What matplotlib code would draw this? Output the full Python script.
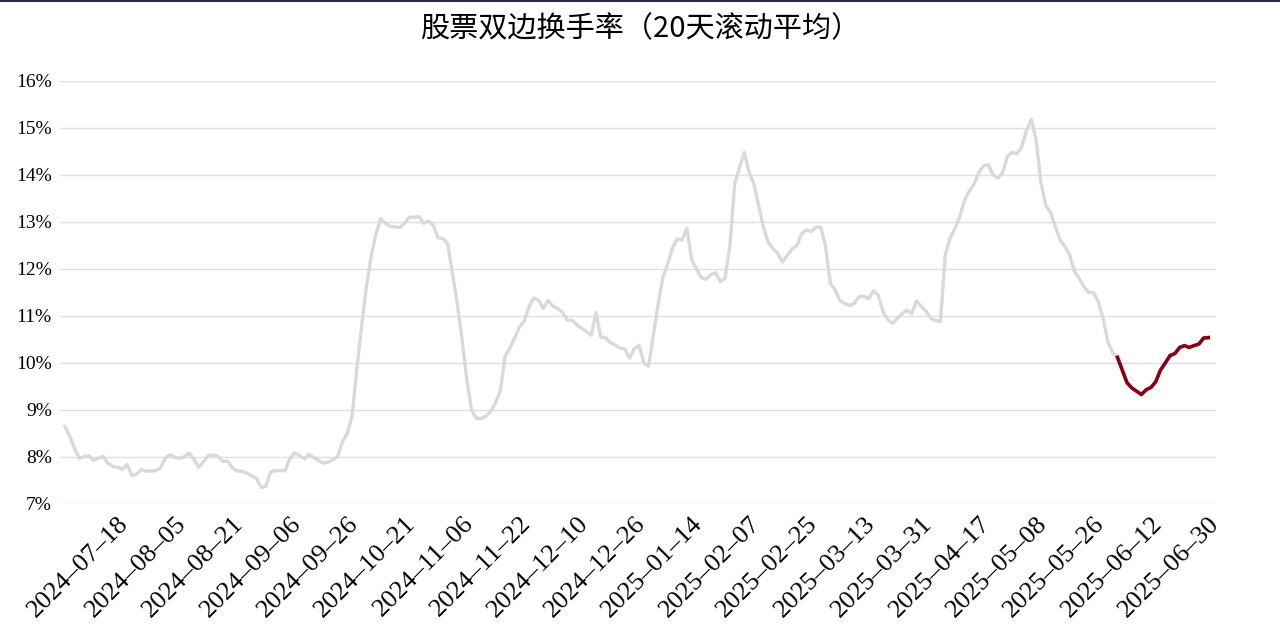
import matplotlib
matplotlib.use("Agg")
import matplotlib.pyplot as plt
from matplotlib.lines import Line2D

title = "股票双边换手率（20天滚动平均）"
tick_labels = ["2024-07-18", "2024-08-05", "2024-08-21", "2024-09-06", "2024-09-26",
               "2024-10-21", "2024-11-06", "2024-11-22", "2024-12-10", "2024-12-26",
               "2025-01-14", "2025-02-07", "2025-02-25", "2025-03-13", "2025-03-31",
               "2025-04-17", "2025-05-08", "2025-05-26", "2025-06-12", "2025-06-30"]
turnover = [
    8.65, 8.44, 8.19, 7.97, 8.01, 8.03, 7.93, 7.98, 8.01, 7.86,
    7.80, 7.78, 7.74, 7.84, 7.60, 7.64, 7.73, 7.70, 7.70, 7.71,
    7.77, 7.98, 8.05, 7.99, 7.97, 8.01, 8.08, 7.94, 7.78, 7.91,
    8.04, 8.04, 8.01, 7.91, 7.91, 7.77, 7.70, 7.70, 7.66, 7.60,
    7.55, 7.35, 7.38, 7.68, 7.71, 7.71, 7.71, 7.96, 8.09, 8.04,
    7.96, 8.06, 7.99, 7.93, 7.87, 7.89, 7.94, 8.01, 8.33, 8.50,
    8.86, 9.86, 10.77, 11.62, 12.26, 12.75, 13.07, 12.97, 12.90, 12.90,
    12.88, 12.98, 13.10, 13.10, 13.12, 12.97, 13.02, 12.93, 12.66, 12.65,
    12.54, 11.90, 11.27, 10.50, 9.65, 9.00, 8.82, 8.82, 8.87, 8.97,
    9.15, 9.40, 10.14, 10.32, 10.53, 10.77, 10.89, 11.20, 11.38, 11.34,
    11.16, 11.33, 11.21, 11.16, 11.08, 10.91, 10.91, 10.81, 10.74, 10.67,
    10.59, 11.07, 10.55, 10.54, 10.43, 10.38, 10.32, 10.30, 10.10, 10.30,
    10.38, 10.00, 9.93, 10.60, 11.25, 11.83, 12.10, 12.45, 12.64, 12.62,
    12.86, 12.20, 12.00, 11.82, 11.78, 11.88, 11.92, 11.73, 11.81, 12.50,
    13.81, 14.16, 14.48, 14.06, 13.81, 13.35, 12.89, 12.57, 12.43, 12.33,
    12.15, 12.29, 12.43, 12.50, 12.75, 12.83, 12.80, 12.89, 12.89, 12.47,
    11.69, 11.56, 11.32, 11.27, 11.22, 11.27, 11.41, 11.42, 11.37, 11.54,
    11.44, 11.09, 10.93, 10.84, 10.95, 11.05, 11.12, 11.05, 11.32, 11.20,
    11.10, 10.95, 10.90, 10.88, 12.30, 12.65, 12.85, 13.10, 13.45, 13.65,
    13.80, 14.05, 14.20, 14.22, 14.00, 13.93, 14.05, 14.40, 14.48, 14.45,
    14.60, 14.95, 15.18, 14.75, 13.85, 13.35, 13.20, 12.90, 12.62, 12.48,
    12.30, 11.95, 11.80, 11.62, 11.50, 11.50, 11.30, 10.95, 10.45, 10.22,
    10.12, 9.85, 9.58, 9.47, 9.40, 9.33, 9.43, 9.48, 9.60, 9.85,
    10.00, 10.16, 10.20, 10.33, 10.37, 10.33, 10.37, 10.40, 10.53, 10.54,
]
highlight_start = 220
yticks = [7, 8, 9, 10, 11, 12, 13, 14, 15, 16]

n = len(turnover)
x = list(range(n))
fig = plt.figure(figsize=(12.8, 6.4), dpi=100)
ax = fig.add_axes([0.047, 0.2125, 0.903, 0.661])
ax.plot(x, turnover, color="#d9d9d9", lw=2.4, solid_joinstyle="round")
ax.plot(x[highlight_start:], turnover[highlight_start:], color="#8b0016", lw=2.6,
        solid_joinstyle="round")
ax.set_ylim(7, 16)
ax.set_xlim(-1, n + 0.6)
ax.set_yticks(yticks)
ax.set_yticklabels([f"{v}%" for v in yticks], family="Liberation Serif", fontsize=14)
tick_pos = [11 + 12 * k for k in range(len(tick_labels))]
ax.set_xticks(tick_pos)
ax.set_xticklabels([t.replace("-", "\u2013") for t in tick_labels], rotation=45,
                   ha="right", rotation_mode="anchor",
                   family="Liberation Serif", fontsize=19)
ax.tick_params(length=0, pad=6)
ax.grid(axis="y", color="#e0e0e0", lw=1)
for s in ax.spines.values():
    s.set_visible(False)
fig.text(0.5, 0.955, title, ha="center", va="center", fontsize=21,
         family=["Noto Sans CJK SC", "DejaVu Sans"])
fig.add_artist(Line2D([0, 1], [0.999, 0.999], color="#2b2b4b", lw=1.5,
                      transform=fig.transFigure))
fig.savefig("out.png", dpi=100, facecolor="white")
